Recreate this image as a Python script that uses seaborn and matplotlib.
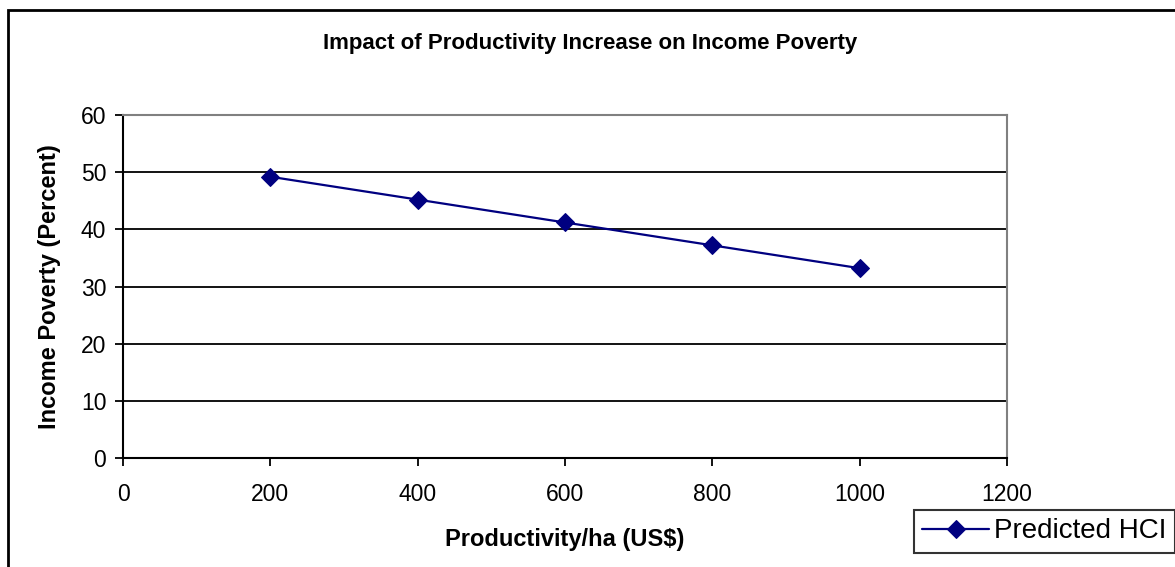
import numpy as np
import pandas as pd
import matplotlib.pyplot as plt
import seaborn as sns
from matplotlib.patches import Rectangle

productivity = [200, 400, 600, 800, 1000]
poverty = [49.2, 45.2, 41.2, 37.2, 33.2]
series_name = "Predicted HCI"

df = pd.DataFrame({"x": productivity, "y": poverty, "s": series_name})

sns.set_style("white")
plt.rcParams["font.family"] = ["Liberation Sans", "DejaVu Sans"]
plt.rcParams["text.color"] = "black"
plt.rcParams["axes.labelcolor"] = "black"

fig = plt.figure(figsize=(11.75, 5.67), dpi=100)
ax = fig.add_axes([123 / 1175, 1 - 458 / 567, (1007 - 123) / 1175, (458 - 115) / 567])

sns.lineplot(data=df, x="x", y="y", hue="s", palette=["#000080"], marker="D",
             markersize=9, markeredgecolor="#000080", linewidth=1.6, ax=ax)

ax.set_xlim(0, 1200)
ax.set_ylim(0, 60)
ax.set_xticks(range(0, 1201, 200))
ax.set_yticks(range(0, 61, 10))
for v in range(10, 60, 10):
    ax.axhline(v, color="black", linewidth=1.3, zorder=0)

for side in ["left", "bottom"]:
    ax.spines[side].set_color("black")
    ax.spines[side].set_linewidth(1.5)
for side in ["top", "right"]:
    ax.spines[side].set_color("#808080")
    ax.spines[side].set_linewidth(1.5)

ax.tick_params(axis="both", direction="out", length=6, width=1.3, colors="black",
               labelsize=16.5, bottom=True, left=True)
ax.tick_params(axis="x", pad=12)
ax.tick_params(axis="y", pad=6)

ax.set_xlabel("Productivity/ha (US$)", fontsize=17, fontweight="bold", labelpad=16)
ax.set_ylabel("Income Poverty (Percent)", fontsize=17, fontweight="bold", labelpad=14)
fig.text(590 / 1175, 1 - 44 / 567, "Impact of Productivity Increase on Income Poverty",
         fontsize=16, fontweight="bold", ha="center", va="center")

leg = ax.legend(loc="center", bbox_to_anchor=(1044.5 / 1175, 1 - 531.5 / 567),
                bbox_transform=fig.transFigure, fontsize=20, frameon=True,
                fancybox=False, edgecolor="black", handlelength=2.4,
                borderpad=0.3, handletextpad=0.2, borderaxespad=0)
leg.get_frame().set_linewidth(1.5)

fig.patches.append(Rectangle((8 / 1175, -0.1), 1.2, 1.1 - 10 / 567, transform=fig.transFigure,
                             fill=False, edgecolor="black", linewidth=2, zorder=-5))

fig.savefig("out.png", dpi=100)
